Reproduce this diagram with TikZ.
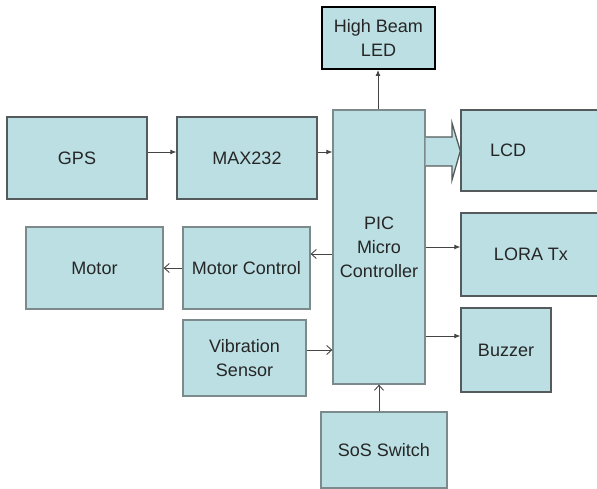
\documentclass[tikz,border=0pt]{standalone}
\usepackage{fontspec}
\setmainfont{Liberation Sans}
\usetikzlibrary{arrows.meta}
\definecolor{boxfill}{HTML}{BBDFE3}
\definecolor{boxline}{HTML}{7C8A8C}
\definecolor{darkline}{HTML}{555B5C}
\definecolor{arrline}{HTML}{444444}
\tikzset{
  blk/.style={draw=boxline, fill=boxfill, line width=1.3pt, rectangle, inner sep=0pt,
    align=center, font=\fontsize{18}{24}\selectfont, text=black!85},
  fa/.style={draw=arrline, line width=0.9pt, -{Latex[length=6pt,width=5pt]}},
  oa/.style={draw=arrline, line width=0.9pt, -{Straight Barb[length=5pt,width=9pt]}},
}
\begin{document}
\begin{tikzpicture}[x=1pt,y=-1pt]
\useasboundingbox (0,0) rectangle (597,489);
% boxes
\node[blk, draw=black, line width=2pt, minimum width=113pt, minimum height=62pt] (LED) at (378.5,38) {High Beam\\LED};
\node[blk, minimum width=92pt, minimum height=274pt] (PIC) at (379,247) {PIC\\Micro\\Controller};
\node[blk, draw=darkline, minimum width=140pt, minimum height=81pt, label={[xshift=-23pt, text=black!85, font=\fontsize{18}{24}\selectfont]center:LCD}] (LCD) at (531,150.5) {};
\node[blk, draw=darkline, minimum width=140pt, minimum height=82pt] (GPS) at (77,158) {GPS};
\node[blk, draw=darkline, minimum width=140pt, minimum height=82pt] (MAX) at (247,158) {MAX232};
\node[blk, minimum width=137pt, minimum height=82pt] (Motor) at (94.5,268) {Motor};
\node[blk, minimum width=127pt, minimum height=82pt] (MC) at (246.5,268) {Motor Control};
\node[blk, minimum width=123pt, minimum height=76pt] (VS) at (244.5,358) {Vibration\\Sensor};
\node[blk, minimum width=126pt, minimum height=76pt] (SOS) at (384,450) {SoS Switch};
\node[blk, draw=darkline, minimum width=140pt, minimum height=83pt] (LORA) at (531,254.5) {LORA Tx};
\node[blk, draw=darkline, minimum width=90pt, minimum height=84pt] (BUZ) at (506,350) {Buzzer};
% connectors
\draw[fa] (GPS.east |- 0,152) -- (MAX.west |- 0,152);
\draw[fa] (MAX.east |- 0,152) -- (PIC.west |- 0,152);
\draw[fa] (PIC.north -| 378,0) -- (LED.south -| 378,0);
\draw[oa] (PIC.west |- 0,254) -- (MC.east |- 0,254);
\draw[oa] (MC.west) -- (Motor.east);
\draw[oa] (VS.east |- 0,350) -- (PIC.west |- 0,350);
\draw[oa] (SOS.north -| 379,0) -- (PIC.south -| 379,0);
\draw[fa] (PIC.east |- 0,247) -- (LORA.west |- 0,247);
\draw[fa] (PIC.east |- 0,336) -- (BUZ.west |- 0,336);
% block arrow to LCD
\coordinate (ba) at (PIC.east |- 0,137);
\coordinate (bb) at (PIC.east |- 0,166);
\coordinate (tip) at (LCD.west |- 0,151);
\fill[boxfill] (ba) -- (452,137) -- (452,123) -- (tip) -- (452,180) -- (452,166) -- (bb) -- cycle;
\draw[darkline, line width=1.3pt, line join=miter] (ba) -- (452,137) -- (452,123) -- (tip) -- (452,180) -- (452,166) -- (bb);
\end{tikzpicture}
\end{document}
